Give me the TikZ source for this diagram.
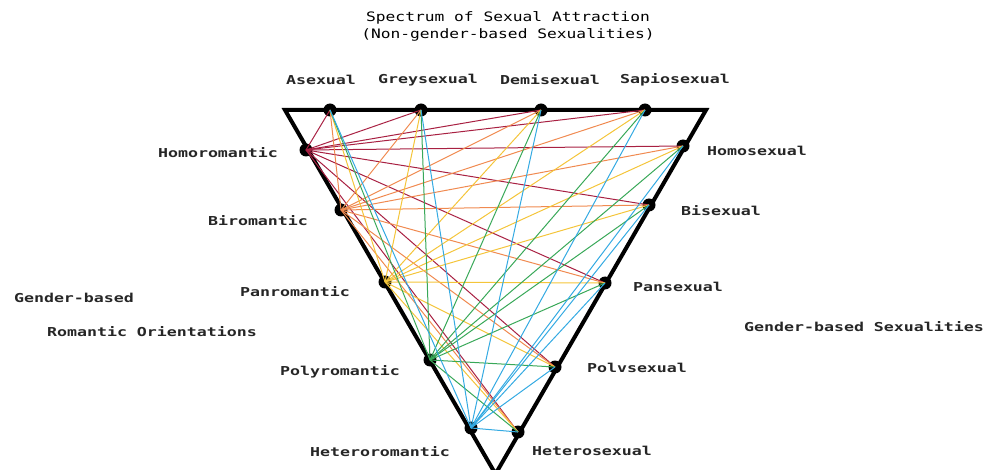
\documentclass[tikz,border=0pt]{standalone}
\usepackage{fontspec}
\newfontfamily\pixfont[FakeStretch=1.35]{DejaVu Sans Mono}
\newfontfamily\titlefont[FakeStretch=1.25]{DejaVu Sans Mono}
\usetikzlibrary{positioning}

\definecolor{homoC}{HTML}{A82042}
\definecolor{biC}{HTML}{F08A50}
\definecolor{panC}{HTML}{F4C53A}
\definecolor{polyC}{HTML}{38A858}
\definecolor{heteroC}{HTML}{34AAE2}

\begin{document}
\begin{tikzpicture}[x=1pt, y=-1pt,
    vdot/.style={circle, fill=black, inner sep=0pt, minimum size=13pt},
    lbl/.style={font=\pixfont\bfseries\fontsize{12.3}{14}\selectfont, inner sep=0pt, text=black!85},
    ttl/.style={font=\titlefont\fontsize{13}{17}\selectfont, inner sep=0pt, align=center, text=black},
    link/.style={line width=1pt}
]
\useasboundingbox (0,0) rectangle (996,470);

% frame
\draw[line width=4pt] (285,110) -- (706,110) -- (495.5,474) -- cycle;

% title
\node[ttl] (title) at (508,26) {Spectrum of Sexual Attraction\\(Non-gender-based Sexualities)};

% non-gender-based sexualities (top edge)
\node[vdot] (asex) at (330,110) {};
\node[vdot] (grey) at (421,110) {};
\node[vdot] (demi) at (541,110) {};
\node[vdot] (sapio) at (645,110) {};

% romantic orientations (left edge)
\node[vdot] (homorom) at (306,150) {};
\node[vdot] (birom) at (341,210) {};
\node[vdot] (panrom) at (385,282) {};
\node[vdot] (polyrom) at (430,360) {};
\node[vdot] (heterorom) at (471,428) {};

% gender-based sexualities (right edge)
\node[vdot] (homosex) at (683,146) {};
\node[vdot] (bisex) at (649,205) {};
\node[vdot] (pansex) at (605,283) {};
\node[vdot] (polysex) at (555,367) {};
\node[vdot] (heterosex) at (518,432) {};

% links
\foreach \r/\c in {homorom/homoC, birom/biC, panrom/panC, polyrom/polyC, heterorom/heteroC}{
  \foreach \s in {asex, grey, demi, sapio, homosex, bisex, pansex, polysex, heterosex}{
    \draw[link, draw=\c] (\r.center) -- (\s.center);
  }
}

% labels
\node[lbl] (asexL) at (321,80) {Asexual};
\node[lbl] (greyL) at (428,80) {Greysexual};
\node[lbl] (demiL) at (550,80) {Demisexual};
\node[lbl] (sapioL) at (675,80) {Sapiosexual};

\node[lbl] (homoromL) at (218,153) {Homoromantic};
\node[lbl] (biromL) at (258,221) {Biromantic};
\node[lbl] (panromL) at (295,292) {Panromantic};
\node[lbl] (polyromL) at (340,372) {Polyromantic};
\node[lbl] (heteroromL) at (380,452) {Heteroromantic};

\node[lbl] (homosexL) at (757,151) {Homosexual};
\node[lbl] (bisexL) at (721,211) {Bisexual};
\node[lbl] (pansexL) at (678,287) {Pansexual};
\node[lbl] (polysexL) at (637,368) {Polvsexual};
\node[lbl] (heterosexL) at (592,451) {Heterosexual};

\node[lbl] (gbL) at (74,298) {Gender-based};
\node[lbl] (roL) at (152,332) {Romantic Orientations};
\node[lbl] (gsL) at (864,327) {Gender-based Sexualities};

\end{tikzpicture}
\end{document}
